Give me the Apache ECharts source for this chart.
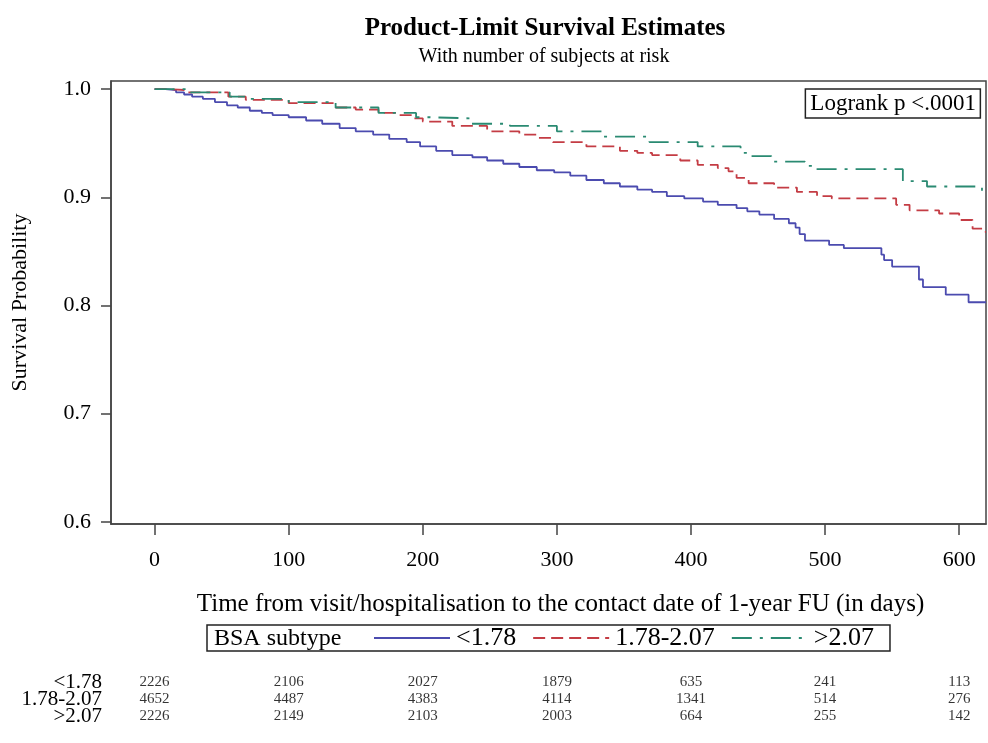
<!DOCTYPE html>
<html>
<head>
<meta charset="utf-8">
<script src="https://cdn.jsdelivr.net/npm/echarts@6/dist/echarts.min.js"></script>
<style>html,body{margin:0;padding:0;background:#fff}#c{width:988px;height:743px}</style>
</head>
<body>
<div id="c"></div>
<script>
const groupNames = ['<1.78', '1.78-2.07', '>2.07'];

const timesA = [0,8,16,22,28,36,45,54,62,71,80,88,100,113,125,138,150,163,175,188,198,210,222,237,248,260,272,285,298,310,322,335,347,360,371,382,395,409,420,434,442,451,462,473,478,481,485,503,514,542,544,550,570,573,590,607,620];
const survA  = [1.000,0.999,0.997,0.995,0.993,0.991,0.988,0.985,0.983,0.980,0.978,0.976,0.974,0.971,0.968,0.964,0.961,0.958,0.954,0.951,0.947,0.943,0.939,0.937,0.934,0.931,0.928,0.925,0.923,0.920,0.916,0.913,0.910,0.907,0.905,0.901,0.899,0.896,0.893,0.890,0.887,0.884,0.880,0.876,0.872,0.866,0.860,0.856,0.853,0.847,0.842,0.836,0.824,0.817,0.810,0.803,0.803];

const timesB = [0,10,25,55,68,100,135,150,167,180,192,200,222,248,272,285,297,322,347,360,371,392,405,420,428,434,443,462,479,494,505,553,563,585,600,610,618,620];
const survB  = [1.000,0.999,0.997,0.993,0.990,0.987,0.983,0.981,0.978,0.976,0.973,0.970,0.966,0.961,0.958,0.955,0.951,0.947,0.943,0.941,0.939,0.934,0.930,0.927,0.924,0.918,0.913,0.909,0.905,0.901,0.899,0.893,0.888,0.885,0.879,0.871,0.868,0.868];

const timesC = [0,25,56,68,100,135,167,195,205,235,265,300,334,369,405,437,442,460,485,491,558,576,617,620];
const survC  = [1.000,0.997,0.993,0.991,0.988,0.983,0.978,0.974,0.973,0.968,0.966,0.961,0.956,0.951,0.947,0.941,0.938,0.933,0.929,0.926,0.915,0.910,0.904,0.904];

const xTicks = [0,100,200,300,400,500,600];
const yTicks = [0.6,0.7,0.8,0.9,1.0];

const riskTimes = [0,100,200,300,400,500,600];
const riskA = [2226,2106,2027,1879,635,241,113];
const riskB = [4652,4487,4383,4114,1341,514,276];
const riskC = [2226,2149,2103,2003,664,255,142];

const FONT = '"Liberation Serif","Times New Roman",serif';
const colors = ['#4b4baf', '#c43c44', '#2a8a72'];
const zip = (t, s) => t.map((v, i) => [v, s[i]]);

const riskData = [];
[riskA, riskB, riskC].forEach((arr, r) => {
  arr.forEach((n, i) => riskData.push([riskTimes[i], groupNames[r], n]));
});

const chart = echarts.init(document.getElementById('c'), null, {renderer: 'canvas'});
chart.setOption({
  backgroundColor: '#fff',
  animation: false,
  textStyle: {fontFamily: FONT},
  title: [
    {text: 'Product-Limit Survival Estimates', left: 540, textAlign: 'center', top: 11,
     textStyle: {fontFamily: FONT, fontSize: 25, fontWeight: 'bold', color: '#000'}},
    {text: 'With number of subjects at risk', left: 539, textAlign: 'center', top: 42,
     textStyle: {fontFamily: FONT, fontSize: 20, fontWeight: 'normal', color: '#000'}},
    {text: 'Logrank p <.0001', right: 7, top: 89, padding: [3, 5, 3, 5],
     borderColor: '#222', borderWidth: 1.5,
     textStyle: {fontFamily: FONT, fontSize: 23, fontWeight: 'normal', color: '#000'}}
  ],
  legend: {
    left: 207, top: 625, orient: 'horizontal',
    padding: [0, 16, 0, 166],
    borderColor: '#222', borderWidth: 1.5,
    itemWidth: 76, itemHeight: 20, itemGap: 16,
    itemStyle: {opacity: 0, borderWidth: 0},
    data: groupNames,
    textStyle: {fontFamily: FONT, fontSize: 26, color: '#000', padding: [0, 0, 0, 1]}
  },
  graphic: [
    {type: 'text', left: 214, top: 627,
     style: {text: 'BSA subtype', font: '24px ' + FONT, fill: '#000'}}
  ],
  grid: [
    {left: 111, right: 2, top: 81, bottom: 219, show: true, borderColor: '#444', borderWidth: 1.5, backgroundColor: 'transparent'},
    {left: 111, right: 2, top: 674, height: 51, show: false}
  ],
  xAxis: [
    {type: 'value', gridIndex: 0, min: -32.5, max: 620,
     name: 'Time from visit/hospitalisation to the contact date of 1-year FU (in days)',
     nameLocation: 'middle', nameGap: 68,
     nameTextStyle: {fontFamily: FONT, fontSize: 25, color: '#000', padding: [0, 0, 0, 24]},
     axisLine: {show: true, onZero: false, lineStyle: {color: '#444', width: 1.5}},
     axisTick: {show: true, length: 11, lineStyle: {color: '#444', width: 1.5}, customValues: xTicks},
     axisLabel: {fontFamily: FONT, fontSize: 22, color: '#000', margin: 25, customValues: xTicks, formatter: v => String(v)},
     splitLine: {show: false}},
    {type: 'value', gridIndex: 1, min: -32.5, max: 620, show: false}
  ],
  yAxis: [
    {type: 'value', gridIndex: 0, min: 0.598, max: 1.0075,
     name: 'Survival Probability', nameLocation: 'middle', nameGap: 80, nameRotate: 90,
     nameTextStyle: {fontFamily: FONT, fontSize: 22, color: '#000'},
     axisLine: {show: true, onZero: false, lineStyle: {color: '#444', width: 1.5}},
     axisTick: {show: true, length: 10, lineStyle: {color: '#444', width: 1.5}, customValues: yTicks},
     axisLabel: {fontFamily: FONT, fontSize: 22, color: '#000', margin: 20, customValues: yTicks, formatter: v => v.toFixed(1)},
     splitLine: {show: false}},
    {type: 'category', gridIndex: 1, inverse: true, data: groupNames,
     axisLine: {show: false}, axisTick: {show: false}, splitLine: {show: false},
     axisLabel: {fontFamily: FONT, fontSize: 21, color: '#000', margin: 9, interval: 0}}
  ],
  series: [
    {name: groupNames[0], type: 'line', step: 'end', showSymbol: false, symbol: 'none',
     data: zip(timesA, survA), color: colors[0],
     lineStyle: {color: colors[0], width: 1.8, type: 'solid'}},
    {name: groupNames[1], type: 'line', step: 'end', showSymbol: false, symbol: 'none',
     data: zip(timesB, survB), color: colors[1],
     lineStyle: {color: colors[1], width: 1.8, type: [12, 6]}},
    {name: groupNames[2], type: 'line', step: 'end', showSymbol: false, symbol: 'none',
     data: zip(timesC, survC), color: colors[2],
     lineStyle: {color: colors[2], width: 1.8, type: [20, 8, 3, 8]}},
    {type: 'scatter', xAxisIndex: 1, yAxisIndex: 1, data: riskData,
     symbolSize: 1, itemStyle: {color: 'rgba(0,0,0,0)'}, silent: true,
     label: {show: true, position: 'inside', formatter: p => String(p.value[2]),
             fontFamily: FONT, fontSize: 15, color: '#000'}}
  ]
});
</script>
</body>
</html>
